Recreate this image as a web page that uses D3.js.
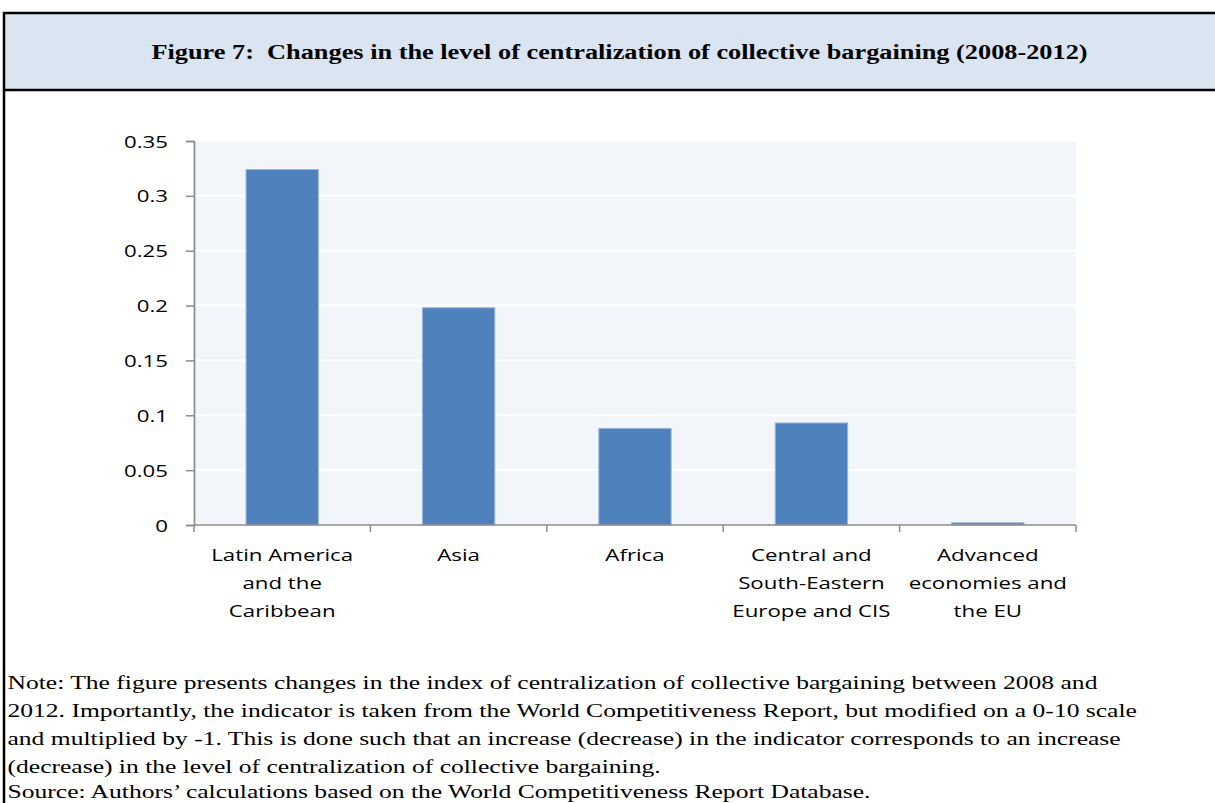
<!DOCTYPE html>
<html>
<head>
<meta charset="utf-8">
<script src="https://cdn.jsdelivr.net/npm/d3@7/dist/d3.min.js"></script>
<style>
  html, body { margin: 0; padding: 0; background: #ffffff; }
  svg { display: block; }
  svg text { white-space: pre; }
</style>
</head>
<body>
<svg id="fig" width="1215" height="803"></svg>
<script>
// Regions and their change in the centralization index, 2008-2012
const categories = [
  ["Latin America", "and the", "Caribbean"],
  ["Asia"],
  ["Africa"],
  ["Central and", "South-Eastern", "Europe and CIS"],
  ["Advanced", "economies and", "the EU"]
];
const values = [0.324, 0.198, 0.088, 0.093, 0.002];
const yTicks = [0, 0.05, 0.1, 0.15, 0.2, 0.25, 0.3, 0.35];
const yTickLabels = ["0", "0.05", "0.1", "0.15", "0.2", "0.25", "0.3", "0.35"];

const titleText = "Figure 7:  Changes in the level of centralization of collective bargaining (2008-2012)";
const noteLines = [
  "Note: The figure presents changes in the index of centralization of collective bargaining between 2008 and",
  "2012. Importantly, the indicator is taken from the World Competitiveness Report, but modified on a 0-10 scale",
  "and multiplied by -1. This is done such that an increase (decrease) in the indicator corresponds to an increase",
  "(decrease) in the level of centralization of collective bargaining.",
  "Source: Authors\u2019 calculations based on the World Competitiveness Report Database."
];

const svg = d3.select("#fig");
const W = 1215, H = 803;

// Horizontal stretch helper: place text at (x,y) and widen it by sx
function place(sel, x, y, sx) {
  sel.attr("x", 0).attr("y", 0)
     .attr("transform", `translate(${x},${y}) scale(${sx},1)`);
}
function measure(str, font, size, weight) {
  const t = svg.append("text").attr("font-family", font).attr("font-size", size)
    .attr("font-weight", weight || "normal").text(str);
  const w = t.node().getComputedTextLength();
  t.remove();
  return w;
}

// ---- Frame and header band ----
svg.append("rect").attr("x", 4).attr("y", 13).attr("width", W).attr("height", 77)
  .attr("fill", "#DBE5F1");
svg.append("line").attr("x1", 3).attr("x2", W).attr("y1", 13).attr("y2", 13)
  .attr("stroke", "#000").attr("stroke-width", 2.5);
svg.append("line").attr("x1", 3).attr("x2", W).attr("y1", 90).attr("y2", 90)
  .attr("stroke", "#000").attr("stroke-width", 2.5);
svg.append("line").attr("x1", 4).attr("x2", 4).attr("y1", 12).attr("y2", H)
  .attr("stroke", "#000").attr("stroke-width", 2.5);

const serif = "'Liberation Serif', 'Times New Roman', serif";
const sans = "'Open Sans', 'Noto Sans', sans-serif";

const titleSize = 20;
const titleSx = 937 / measure(titleText, serif, titleSize, "bold");
svg.append("text").attr("font-family", serif).attr("font-size", titleSize)
  .attr("font-weight", "bold").attr("text-anchor", "middle").attr("fill", "#000")
  .text(titleText).call(place, 619.5, 58.5, titleSx);

// ---- Chart ----
const plot = { left: 194, right: 1076, top: 141, bottom: 525 };

const x = d3.scaleBand()
  .domain(d3.range(categories.length))
  .range([plot.left, plot.right])
  .padding(0);
const y = d3.scaleLinear().domain([0, 0.35]).range([plot.bottom, plot.top]);
const barFrac = 0.41;

svg.append("rect")
  .attr("x", plot.left).attr("y", y(0.35))
  .attr("width", plot.right - plot.left).attr("height", y(0) - y(0.35))
  .attr("fill", "#F2F5F9");

// white gridlines
svg.append("g").selectAll("line").data(yTicks.filter(d => d > 0)).join("line")
  .attr("x1", plot.left).attr("x2", plot.right)
  .attr("y1", d => y(d)).attr("y2", d => y(d))
  .attr("stroke", "#ffffff").attr("stroke-width", 2);

// bars
svg.append("g").selectAll("rect").data(values).join("rect")
  .attr("x", (d, i) => x(i) + x.bandwidth() * (1 - barFrac) / 2)
  .attr("width", x.bandwidth() * barFrac)
  .attr("y", d => y(d))
  .attr("height", d => y(0) - y(d))
  .attr("fill", "#4F81BD")
  .attr("stroke", "#9AB6DA").attr("stroke-width", 1);

// y axis
const yAxis = d3.axisLeft(y).tickValues(yTicks).tickSize(8).tickFormat((d, i) => yTickLabels[i]);
const gy = svg.append("g").attr("transform", `translate(${plot.left},0)`).call(yAxis);
gy.select(".domain").attr("stroke", "#8C8C8C").attr("stroke-width", 1.7);
gy.selectAll(".tick line").attr("stroke", "#8C8C8C").attr("stroke-width", 1.5);
const tickSize = 17;
const tickSx = 44 / measure("0.35", sans, tickSize);
gy.selectAll(".tick text").each(function () {
  const t = d3.select(this);
  t.attr("font-family", sans).attr("font-size", tickSize).attr("fill", "#000")
   .attr("text-anchor", "end").attr("dy", null)
   .attr("x", 0).attr("y", 0)
   .attr("transform", `translate(${168 - plot.left},6) scale(${tickSx},1)`);
});

// x axis: baseline with tick marks at category boundaries
const gx = svg.append("g");
gx.append("line").attr("x1", plot.left).attr("x2", plot.right)
  .attr("y1", y(0)).attr("y2", y(0))
  .attr("stroke", "#8C8C8C").attr("stroke-width", 1.7);
const bounds = d3.range(categories.length + 1).map(i => i < categories.length ? x(i) : plot.right);
gx.selectAll("line.tk").data(bounds).join("line").attr("class", "tk")
  .attr("x1", d => d).attr("x2", d => d)
  .attr("y1", y(0)).attr("y2", y(0) + 7)
  .attr("stroke", "#8C8C8C").attr("stroke-width", 1.5);

const catSize = 17;
const catSx = 142 / measure("Latin America", sans, catSize);
categories.forEach((lines, i) => {
  const cx = x(i) + x.bandwidth() / 2;
  lines.forEach((ln, j) => {
    gx.append("text").attr("font-family", sans).attr("font-size", catSize)
      .attr("text-anchor", "middle").attr("fill", "#000")
      .text(ln).call(place, cx, 560.5 + j * 28, catSx);
  });
});

// ---- Note and source ----
const noteSize = 19;
const noteSx = 1130 / measure(noteLines[1], serif, noteSize);
const noteBaselines = [688.5, 716.5, 744.5, 772.5, 798];
noteLines.forEach((ln, i) => {
  svg.append("text").attr("font-family", serif).attr("font-size", noteSize)
    .attr("fill", "#000").text(ln)
    .call(place, 7.5, noteBaselines[i], noteSx);
});
</script>
</body>
</html>
